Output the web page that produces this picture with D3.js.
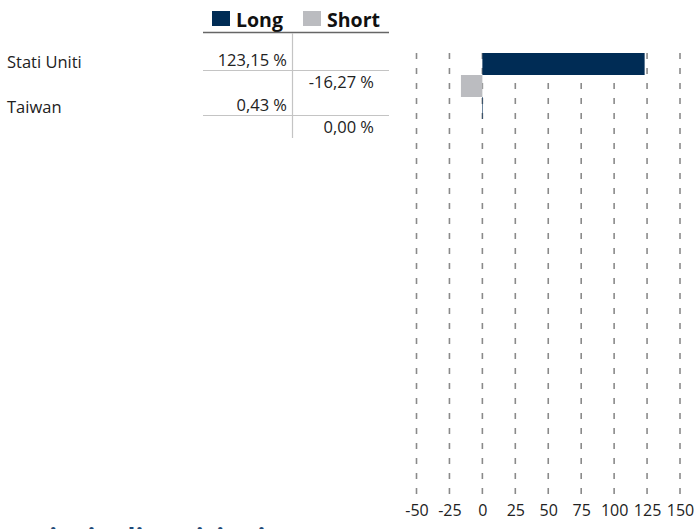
<!DOCTYPE html>
<html>
<head>
<meta charset="utf-8">
<script src="https://cdn.jsdelivr.net/npm/d3@7"></script>
<style>
  body { margin: 0; background: #fff; }
  svg { display: block; font-family: "Open Sans", sans-serif; }
</style>
</head>
<body>
<div id="chart"></div>
<script>
// data
var countries = ["Stati Uniti", "Taiwan"];
var longValues = [123.15, 0.43];
var shortValues = [-16.27, 0.00];
var seriesNames = ["Long", "Short"];
var seriesColors = ["#002c55", "#bbbcc0"];
var tickValues = [-50, -25, 0, 25, 50, 75, 100, 125, 150];

var fmt = function(v){ return v.toFixed(2).replace(".", ",") + " %"; };

var svg = d3.select('#chart')
    .append('svg')
    .attr('width', 695)
    .attr('height', 529);

// scales
var x = d3.scaleLinear().domain([-50, 150]).range([416.5, 680]);
var y = d3.scaleBand().domain(countries).range([53, 141]);
var sub = d3.scaleBand().domain(seriesNames).range([0, y.bandwidth()]);

// grid
svg.append('g').selectAll('line')
    .data(tickValues)
    .enter()
    .append('line')
    .attr('x1', function(d){ return x(d); })
    .attr('x2', function(d){ return x(d); })
    .attr('y1', 53)
    .attr('y2', 494)
    .attr('stroke', '#8a8a8a')
    .attr('stroke-width', 1.6)
    .attr('stroke-dasharray', '6,9');

// axis labels
var axis = d3.axisBottom(x)
    .tickValues(tickValues)
    .tickFormat(function(d){ return String(d); })
    .tickSize(0).tickPadding(0);
var gAxis = svg.append('g')
    .attr('transform', 'translate(0,505)')
    .call(axis);
gAxis.select('.domain').remove();
gAxis.selectAll('text')
    .attr('dy', '0.71em')
    .style('font-family', '"Open Sans", sans-serif')
    .style('font-size', '16px')
    .attr('fill', '#222');

// bars
var rows = countries.map(function(c, i){
    return {country: c, long: longValues[i], short: shortValues[i]};
});

svg.append('g').selectAll('rect')
    .data(rows)
    .enter()
    .append('rect')
    .attr('x', function(d){ return x(Math.min(0, d.long)); })
    .attr('y', function(d){ return y(d.country) + sub('Long'); })
    .attr('width', function(d){ return Math.abs(x(d.long) - x(0)); })
    .attr('height', sub.bandwidth())
    .attr('fill', seriesColors[0]);

svg.append('g').selectAll('rect')
    .data(rows)
    .enter()
    .append('rect')
    .attr('x', function(d){ return x(Math.min(0, d.short)); })
    .attr('y', function(d){ return y(d.country) + sub('Short'); })
    .attr('width', function(d){ return Math.abs(x(d.short) - x(0)); })
    .attr('height', sub.bandwidth())
    .attr('fill', seriesColors[1]);

// legend
var legend = svg.append('g');
var legX = [212, 303];
seriesNames.forEach(function(s, i){
    legend.append('rect')
        .attr('x', legX[i]).attr('y', 11)
        .attr('width', 18).attr('height', 15)
        .attr('fill', seriesColors[i]);
    legend.append('text')
        .attr('x', legX[i] + 24).attr('y', 27)
        .attr('font-weight', 'bold')
        .attr('font-size', '19.5px')
        .attr('fill', '#111')
        .text(s);
});
legend.append('line')
    .attr('x1', 203).attr('x2', 389)
    .attr('y1', 32.5).attr('y2', 32.5)
    .attr('stroke', '#666').attr('stroke-width', 1.5);

// table
var table = svg.append('g');
table.append('line')
    .attr('x1', 292.5).attr('x2', 292.5)
    .attr('y1', 33).attr('y2', 138)
    .attr('stroke', '#c4c4c4').attr('stroke-width', 1.2);

var rowStep = 45;
var row = table.selectAll('g.row')
    .data(rows)
    .enter()
    .append('g')
    .attr('class', 'row')
    .attr('transform', function(d, i){ return 'translate(0,' + (i * rowStep) + ')'; });

row.append('line')
    .attr('x1', 203).attr('x2', 389)
    .attr('y1', 70.5).attr('y2', 70.5)
    .attr('stroke', '#c4c4c4').attr('stroke-width', 1.2);

row.append('text')
    .attr('x', 7).attr('y', 68)
    .attr('font-size', '16.5px').attr('fill', '#222')
    .text(function(d){ return d.country; });

row.append('text')
    .attr('x', 287).attr('y', 66)
    .attr('text-anchor', 'end')
    .attr('font-size', '16.5px').attr('fill', '#222')
    .text(function(d){ return fmt(d.long); });

row.append('text')
    .attr('x', 374).attr('y', 88)
    .attr('text-anchor', 'end')
    .attr('font-size', '16.5px').attr('fill', '#222')
    .text(function(d){ return fmt(d.short); });

// next section heading, cut by the page edge
svg.append('text')
    .attr('x', 21).attr('y', 548)
    .attr('font-size', '26px')
    .attr('font-weight', 'bold')
    .attr('fill', '#1f4a78')
    .text('Principali posizioni');
</script>
</body>
</html>
